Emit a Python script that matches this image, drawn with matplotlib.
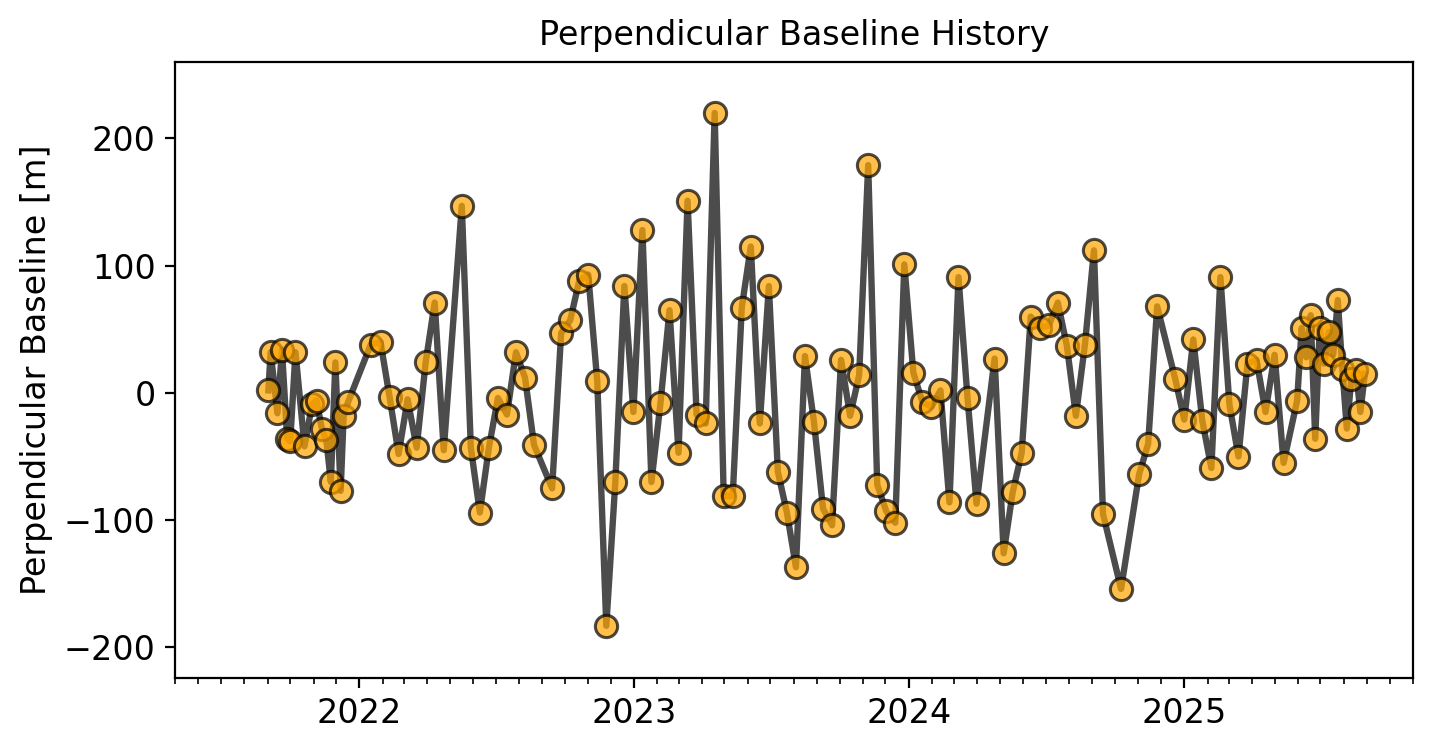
import pandas as pd
import matplotlib
matplotlib.use('Agg')
import matplotlib.pyplot as plt
import matplotlib.dates as mdates

# acquisition dates and perpendicular baselines (m)
dates = [
    '2021-09-02', '2021-09-05', '2021-09-14', '2021-09-20', '2021-09-27', '2021-10-01',
    '2021-10-08', '2021-10-20', '2021-10-30', '2021-11-05', '2021-11-12', '2021-11-18',
    '2021-11-24', '2021-11-30', '2021-12-07', '2021-12-11', '2021-12-17',
    '2022-01-16', '2022-01-29', '2022-02-10', '2022-02-22', '2022-03-06', '2022-03-18',
    '2022-03-30', '2022-04-11', '2022-04-23', '2022-05-17', '2022-05-29', '2022-06-10',
    '2022-06-22', '2022-07-04', '2022-07-16', '2022-07-28', '2022-08-09', '2022-08-21',
    '2022-09-14', '2022-09-26', '2022-10-08', '2022-10-20', '2022-11-01', '2022-11-13',
    '2022-11-25', '2022-12-07', '2022-12-19', '2022-12-31',
    '2023-01-12', '2023-01-24', '2023-02-05', '2023-02-17', '2023-03-01', '2023-03-13',
    '2023-03-25', '2023-04-06', '2023-04-18', '2023-04-30', '2023-05-12', '2023-05-24',
    '2023-06-05', '2023-06-17', '2023-06-29', '2023-07-11', '2023-07-23', '2023-08-04',
    '2023-08-16', '2023-08-28', '2023-09-09', '2023-09-21', '2023-10-03', '2023-10-15',
    '2023-10-27', '2023-11-08', '2023-11-20', '2023-12-02', '2023-12-14', '2023-12-26',
    '2024-01-07', '2024-01-19', '2024-01-31', '2024-02-12', '2024-02-24', '2024-03-07',
    '2024-03-19', '2024-03-31', '2024-04-24', '2024-05-06', '2024-05-18', '2024-05-30',
    '2024-06-11', '2024-06-23', '2024-07-05', '2024-07-17', '2024-07-29', '2024-08-10',
    '2024-08-22', '2024-09-03', '2024-09-15', '2024-10-09', '2024-11-02', '2024-11-14',
    '2024-11-26', '2024-12-20',
    '2025-01-01', '2025-01-13', '2025-01-25', '2025-02-06', '2025-02-18', '2025-03-02',
    '2025-03-14', '2025-03-26', '2025-04-07', '2025-04-19', '2025-05-01', '2025-05-13',
    '2025-05-31', '2025-06-06', '2025-06-12', '2025-06-18', '2025-06-24', '2025-06-30',
    '2025-07-06', '2025-07-12', '2025-07-18', '2025-07-24', '2025-07-30', '2025-08-05',
    '2025-08-11', '2025-08-17', '2025-08-23', '2025-08-29',
]
bperp = [
    2, 32, -16, 34, -36, -38,
    32, -42, -9, -6, -28, -37,
    -70, 24, -77, -18, -7,
    38, 40, -3, -48, -5, -43,
    24, 71, -45, 147, -43, -94,
    -43, -4, -17, 32, 12, -41,
    -75, 47, 57, 88, 93, 9,
    -183, -70, 84, -15,
    128, -70, -8, 65, -47, 151,
    -17, -24, 220, -81, -81, 67,
    115, -24, 84, -62, -94, -137,
    29, -23, -91, -104, 26, -18,
    14, 179, -72, -93, -102, 101,
    16, -7, -11, 2, -86, 91,
    -4, -87, 27, -126, -78, -47,
    60, 51, 53, 71, 37, -18,
    38, 112, -95, -154, -64, -40,
    68, 11,
    -21, 42, -22, -59, 91, -9,
    -50, 23, 26, -15, 30, -55,
    -6, 51, 28, 61, -36, 51,
    23, 48, 30, 73, 19, -28,
    11, 18, -15, 15,
]

plt.rcParams['font.size'] = 12

fig, ax = plt.subplots(figsize=(7.175, 3.75), dpi=200)
fig.subplots_adjust(left=0.122, right=0.9847, top=0.9173, bottom=0.096)

ax.plot(pd.to_datetime(dates), bperp, '-o', color='k', alpha=0.7, lw=2.3,
        ms=8, mfc='orange', mec='k', mew=1.1)

ax.xaxis.set_major_locator(mdates.YearLocator())
ax.xaxis.set_major_formatter(mdates.DateFormatter('%Y'))
ax.xaxis.set_minor_locator(mdates.MonthLocator())
ax.set_xlim(pd.Timestamp('2021-05-01'), pd.Timestamp('2025-11-01'))
ax.set_ylim(-224, 260)

ax.set_title('Perpendicular Baseline History', fontsize=12)
ax.set_ylabel('Perpendicular Baseline [m]')

fig.savefig('out.png', dpi=200)
